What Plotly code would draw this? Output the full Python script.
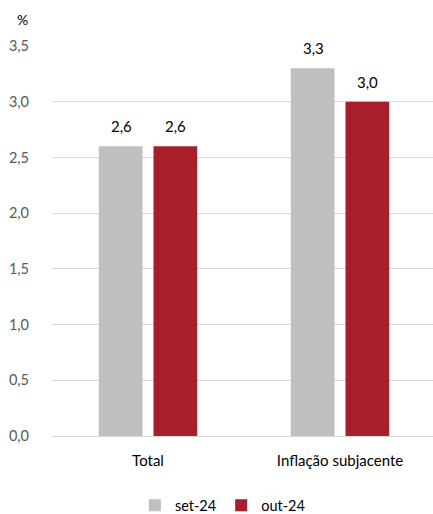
import plotly.graph_objects as go

categories = ["Total", "Inflação subjacente"]
series_names = ["set-24", "out-24"]
set24 = [2.6, 3.3]
out24 = [2.6, 3.0]
y_ticks = [0, 0.5, 1.0, 1.5, 2.0, 2.5, 3.0, 3.5]

colors = ["#BFBFBF", "#A71F2B"]
font_family = "Lato, Open Sans, sans-serif"

fig = go.Figure()
for name, vals, col in zip(series_names, [set24, out24], colors):
    fig.add_trace(go.Bar(
        x=categories, y=vals, name=name, marker=dict(color=col, line=dict(width=0)),
    ))

# value labels, placed via the axes from the data arrays
annotations = []
for vals, xs in zip([set24, out24], [-27, 27]):
    for c, v in zip(categories, vals):
        annotations.append(dict(x=c, y=v, xref="x", yref="y", xshift=xs, yshift=9,
                                text=f"{v:.1f}".replace(".", ","), showarrow=False,
                                xanchor="center", yanchor="bottom",
                                font=dict(size=15, color="#000000")))
annotations.append(dict(text="%", xref="paper", yref="paper", x=-0.078, y=1.0,
                        yshift=16, xanchor="center", yanchor="bottom", showarrow=False,
                        font=dict(size=14, color="#000000")))

fig.update_layout(
    width=436, height=514,
    margin=dict(l=52, r=0, t=46, b=78, autoexpand=False),
    paper_bgcolor="white", plot_bgcolor="white",
    separators=",.",
    barmode="group", bargap=0.43, bargroupgap=0.2,
    font=dict(family=font_family, size=15, color="#595959"),
    showlegend=True,
    legend=dict(orientation="h", x=0.445, xanchor="center", xref="paper",
                y=-0.178, yanchor="middle", yref="paper",
                font=dict(size=14.5, color="#000000"), itemwidth=30, traceorder="normal"),
    xaxis=dict(showline=True, linecolor="#D9D9D9", linewidth=1, ticks="",
               automargin=False, ticklabelstandoff=11,
               tickfont=dict(size=15, color="#000000")),
    yaxis=dict(range=[0, 3.5], tickvals=y_ticks, tickformat=".1f",
               showgrid=True, gridcolor="#D9D9D9", gridwidth=1, zeroline=False,
               ticks="", ticklabelstandoff=22, automargin=False,
               tickfont=dict(size=14.5, color="#595959")),
    annotations=annotations,
)

fig.write_html("out.html", config={"displayModeBar": False},
               post_script="document.body.style.margin='0';document.body.style.overflow='hidden';")
